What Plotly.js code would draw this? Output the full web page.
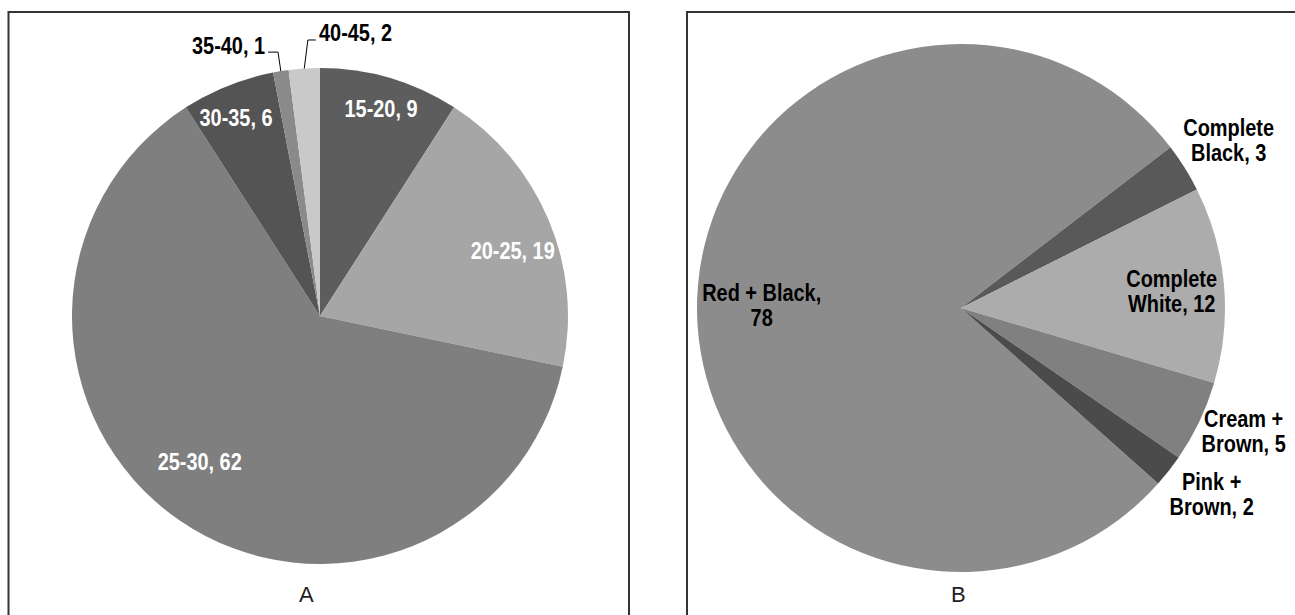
<!DOCTYPE html>
<html>
<head>
<meta charset="utf-8">
<script src="https://cdn.plot.ly/plotly-3.0.1.min.js"></script>
<style>html,body{margin:0;padding:0;background:#fff;}#chart{width:1295px;height:615px;}</style>
</head>
<body>
<div id="chart"></div>
<script>
// ---- Data ----
const catsA = ['15-20', '20-25', '25-30', '30-35', '35-40', '40-45'];
const valsA = [9, 19, 62, 6, 1, 2];
const catsB = ['Red + Black', 'Complete Black', 'Complete White', 'Cream + Brown', 'Pink + Brown'];
const valsB = [78, 3, 12, 5, 2];
const panelLabels = ['A', 'B'];

// ---- Style / layout ----
const W = 1295, H = 615;
const colorsA = ['#5d5d5d', '#a6a6a6', '#7f7f7f', '#545454', '#8a8a8a', '#c9c9c9'];
const colorsB = ['#8c8c8c', '#595959', '#acacac', '#808080', '#4b4b4b'];
const pieA = {cx: 320, cy: 316, r: 248, rot: 0};
const pieB = {cx: 961, cy: 308, r: 264, rot: 131.7};
// label placement: radial factor, angle shift (deg), font colour
const labA = [
  {k: 0.87, da: 0, c: '#ffffff'},
  {k: 0.82, da: 4, c: '#ffffff'},
  {k: 0.76, da: 5, c: '#ffffff'},
  {k: 0.87, da: -1, c: '#ffffff'},
  {leader: true, elbow: [-2.8, -19], run: -10, c: '#000000'},
  {leader: true, elbow: [3.6, -28.5], run: 8, c: '#000000'}
];
const labB = [
  {k: 0.754, da: -1.2, c: '#000000'},
  {k: 1.197, da: 0, c: '#000000'},
  {k: 0.80, da: 0.5, c: '#000000'},
  {k: 1.167, da: -2, c: '#000000'},
  {k: 1.18, da: -1.5, c: '#000000'}
];
const FONT = '"Liberation Sans", Arial, sans-serif';
const FS = 24;
const NARROW = 0.83;     // horizontal condensing of label text
const LINE_EM = 1.07;    // line spacing of two-line labels

const px = x => x / W;
const py = y => 1 - y / H;

function midAngles(vals, rot) {
  const tot = vals.reduce((a, b) => a + b, 0);
  let cum = 0;
  return vals.map(v => { const m = rot + 360 * (cum + v / 2) / tot; cum += v; return m; });
}
function pt(p, ang, rad) {
  const a = ang * Math.PI / 180;
  return [p.cx + rad * Math.sin(a), p.cy - rad * Math.cos(a)];
}
function domainOf(p) {
  return {x: [px(p.cx - p.r), px(p.cx + p.r)], y: [py(p.cy + p.r), py(p.cy - p.r)]};
}

const textA = catsA.map((c, i) => c + ', ' + valsA[i]);
const textB = catsB.map((c, i) => i === 0 ? c + ',<br>' + valsB[i] : c.replace(/ (\S+)$/, '<br>$1') + ', ' + valsB[i]);

const annotations = [];
const shapes = [];
const condense = []; // annotation index -> pivot side

function addLabels(p, vals, texts, labs) {
  const mids = midAngles(vals, p.rot);
  mids.forEach((m, i) => {
    const L = labs[i];
    if (L.leader) {
      const e = pt(p, m, p.r);
      const el = [e[0] + L.elbow[0], e[1] + L.elbow[1]];
      const en = [el[0] + L.run, el[1]];
      shapes.push({type: 'path', xref: 'paper', yref: 'paper',
        path: 'M' + px(e[0]) + ',' + py(e[1]) + ' L' + px(el[0]) + ',' + py(el[1]) + ' L' + px(en[0]) + ',' + py(en[1]),
        line: {color: '#000', width: 1}});
      condense.push({idx: annotations.length, pivot: L.run < 0 ? 'right' : 'left'});
      annotations.push({xref: 'paper', yref: 'paper', x: px(en[0] + (L.run < 0 ? -1 : 1)), y: py(en[1]),
        xanchor: L.run < 0 ? 'right' : 'left', yanchor: 'middle', yshift: 7, showarrow: false,
        text: '<b>' + texts[i] + '</b>', font: {family: FONT, size: FS, color: L.c}});
    } else {
      const q = pt(p, m + L.da, p.r * L.k);
      condense.push({idx: annotations.length, pivot: 'center'});
      annotations.push({xref: 'paper', yref: 'paper', x: px(q[0]), y: py(q[1]),
        xanchor: 'center', yanchor: 'middle', showarrow: false, align: 'center',
        text: '<b>' + texts[i] + '</b>', font: {family: FONT, size: FS, color: L.c}});
    }
  });
}
addLabels(pieA, valsA, textA, labA);
addLabels(pieB, valsB, textB, labB);

// panel letters
[[306, 594], [958, 594]].forEach((c, i) => {
  annotations.push({xref: 'paper', yref: 'paper', x: px(c[0]), y: py(c[1]), xanchor: 'center', yanchor: 'middle',
    showarrow: false, text: panelLabels[i], font: {family: 'Liberation Sans, Arial, sans-serif', size: 22, color: '#222'}});
});

// panel borders
shapes.push({type: 'rect', xref: 'paper', yref: 'paper', x0: px(8.5), x1: px(629), y0: -0.05, y1: py(12),
  line: {color: '#333', width: 2}, fillcolor: 'rgba(0,0,0,0)', layer: 'above'});
shapes.push({type: 'rect', xref: 'paper', yref: 'paper', x0: px(687), x1: 1.05, y0: -0.05, y1: py(12),
  line: {color: '#333', width: 2}, fillcolor: 'rgba(0,0,0,0)', layer: 'above'});

const data = [
  {type: 'pie', labels: catsA, values: valsA, sort: false, direction: 'clockwise', rotation: pieA.rot,
   marker: {colors: colorsA, line: {width: 0}}, textinfo: 'none', hoverinfo: 'label+value',
   domain: domainOf(pieA), showlegend: false},
  {type: 'pie', labels: catsB, values: valsB, sort: false, direction: 'clockwise', rotation: pieB.rot,
   marker: {colors: colorsB, line: {width: 0}}, textinfo: 'none', hoverinfo: 'label+value',
   domain: domainOf(pieB), showlegend: false}
];

const layout = {
  width: W, height: H, margin: {l: 0, r: 0, t: 0, b: 0},
  paper_bgcolor: '#ffffff', plot_bgcolor: '#ffffff', showlegend: false,
  annotations: annotations, shapes: shapes
};

Plotly.newPlot('chart', data, layout, {displayModeBar: false, staticPlot: true}).then(gd => {
  // condense label text horizontally and tighten line spacing (narrow bold face of the original)
  const groups = Array.from(gd.querySelectorAll('g.annotation'));
  condense.forEach(cd => {
    const g = groups.find(el => +el.getAttribute('data-index') === cd.idx);
    if (!g) return;
    const t = g.querySelector('text.annotation-text');
    if (!t) return;
    const lines = t.querySelectorAll('tspan.line');
    let dyShift = 0;
    lines.forEach((ln, j) => {
      if (j > 0 && ln.getAttribute('dy')) { ln.setAttribute('dy', LINE_EM + 'em'); dyShift += (1.3 - LINE_EM) * FS / 2; }
    });
    const bb = t.getBBox();
    const pivot = cd.pivot === 'left' ? bb.x : cd.pivot === 'right' ? bb.x + bb.width : bb.x + bb.width / 2;
    t.setAttribute('transform', 'translate(' + pivot + ',' + dyShift + ') scale(' + NARROW + ',1) translate(' + (-pivot) + ',0)');
  });
});
</script>
</body>
</html>
